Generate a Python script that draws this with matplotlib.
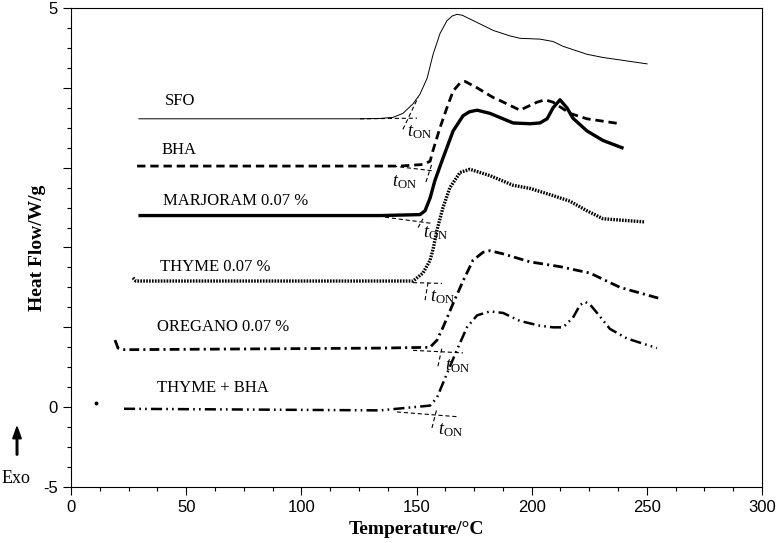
import numpy as np
import matplotlib
matplotlib.use('Agg')
import matplotlib.pyplot as plt
from matplotlib.ticker import MultipleLocator, FixedLocator

plt.rcParams['lines.scale_dashes'] = False
plt.rcParams['mathtext.fontset'] = 'custom'
plt.rcParams['mathtext.rm'] = 'Liberation Serif'
plt.rcParams['mathtext.it'] = 'Liberation Serif:italic'

# DSC curves (temperature in C, heat flow in plot units)
sfo_x = [29.5, 99.4, 125.5, 134.0, 139.8, 144.1, 148.5, 151.5, 154.6, 157.2, 160.2, 163.2,
         165.5, 167.6, 169.8, 171.9, 177.6, 183.2, 190.6, 194.9, 203.6, 209.3, 213.6, 224.0, 231.0, 250.1]
sfo_y = [18.06, 18.06, 18.06, 18.08, 18.15, 18.4, 19.0, 19.6, 20.6, 22.1, 23.4, 24.2,
         24.5, 24.6, 24.55, 24.4, 24.0, 23.6, 23.25, 23.1, 23.05, 22.9, 22.6, 22.1, 21.9, 21.5]

bha_x = [28.7, 99.4, 142.8, 152.8, 155.9, 157.2, 160.2, 163.2, 165.9, 168.9, 171.1,
         176.3, 183.2, 186.3, 194.9, 202.3, 205.8, 209.3, 216.6, 224.0, 238.4]
bha_y = [15.1, 15.1, 15.1, 15.2, 15.4, 16.1, 17.5, 18.75, 19.8, 20.3, 20.4,
         20.0, 19.4, 19.2, 18.6, 19.1, 19.25, 19.1, 18.4, 18.06, 17.75]

marj_x = [30.0, 134.2, 151.5, 153.7, 155.9, 158.0, 161.5, 165.9, 170.2, 173.0, 176.3, 181.9,
          191.9, 199.3, 203.6, 206.7, 209.3, 212.3, 215.3, 217.9, 224.0, 231.0, 239.2]
marj_y = [12.0, 12.0, 12.06, 12.3, 13.1, 14.2, 15.6, 17.3, 18.25, 18.5, 18.6, 18.4,
          17.8, 17.75, 17.8, 18.06, 18.75, 19.25, 18.75, 18.1, 17.3, 16.7, 16.25]

thyme_x = [26.9, 28.2, 30.0, 134.2, 148.5, 152.8, 155.9, 157.2, 158.9, 161.5, 164.5,
           168.9, 173.2, 181.9, 191.9, 199.3, 209.3, 216.6, 224.0, 231.0, 249.2]
thyme_y = [8.1, 7.9, 7.9, 7.9, 7.9, 8.4, 9.2, 9.9, 11.1, 12.5, 13.75,
           14.7, 14.9, 14.5, 13.9, 13.7, 13.25, 12.9, 12.3, 11.8, 11.6]

oreg_x = [19.1, 20.4, 23.4, 134.2, 155.9, 158.9, 161.5, 165.9, 170.2, 174.5, 178.9,
          181.9, 187.6, 199.3, 212.3, 225.3, 238.4, 255.7]
oreg_y = [4.2, 3.7, 3.6, 3.7, 3.75, 4.2, 5.0, 6.5, 7.9, 9.2, 9.7,
          9.8, 9.6, 9.1, 8.8, 8.4, 7.5, 6.8]

tb_x = [23.0, 134.2, 155.9, 158.9, 163.2, 167.6, 171.9, 176.3, 181.9, 187.6, 194.9,
        203.6, 209.3, 213.6, 217.9, 221.0, 223.2, 225.5, 228.4, 234.0, 241.4, 254.4]
tb_y = [-0.1, -0.2, 0.1, 0.6, 2.1, 3.6, 5.0, 5.75, 6.0, 5.9, 5.4,
        5.1, 5.0, 5.0, 5.6, 6.4, 6.6, 6.4, 5.9, 4.9, 4.3, 3.7]
tb_dot = (10.9, 0.25)

labels = ['SFO', 'BHA', 'MARJORAM 0.07 %', 'THYME 0.07 %', 'OREGANO 0.07 %', 'THYME + BHA']
label_x = [40.8, 39.5, 40.0, 38.6, 37.3, 37.3]
label_y = [19.2, 16.1, 12.9, 8.75, 5.0, 1.2]

# onset construction lines: baseline extension and tangent, plus t_ON label position
base_seg = [((125.5, 150.2), (18.06, 18.1)), ((139.8, 157.2), (15.1, 14.8)),
            ((136.3, 157.2), (11.9, 11.5)), ((148.5, 161.1), (7.8, 7.75)),
            ((148.5, 170.2), (3.56, 3.4)), ((141.5, 168.0), (-0.3, -0.6))]
tan_seg = [((144.1, 150.7), (17.4, 19.4)), ((154.1, 156.7), (14.1, 15.25)),
           ((150.7, 152.8), (11.25, 11.8)), ((153.7, 155.0), (6.7, 7.8)),
           ((159.3, 161.1), (2.56, 3.75)), ((156.7, 158.9), (-1.3, -0.06))]
ton_x = [145.9, 139.4, 152.8, 155.9, 162.4, 159.3]
ton_y = [17.25, 14.1, 10.9, 6.9, 2.56, -1.4]

fig = plt.figure(figsize=(7.77, 5.43), dpi=100)
ax = fig.add_axes([0.0914, 0.1031, 0.8893, 0.8822])

ax.plot(sfo_x, sfo_y, color='black', lw=0.7)
ax.plot(bha_x, bha_y, color='black', lw=2.0, dashes=(6, 3.5))
ax.plot(marj_x, marj_y, color='black', lw=2.4)
ax.plot(thyme_x, thyme_y, color='black', lw=2.4, dashes=(1.2, 0.9))
ax.plot(oreg_x, oreg_y, color='black', lw=2.0, dashes=(7, 3, 1.5, 3))
ax.plot(tb_x, tb_y, color='black', lw=1.8, dashes=(8, 3, 1.2, 3, 1.2, 3))
ax.plot([tb_dot[0]], [tb_dot[1]], 'o', color='black', ms=1.8)

for (bx, by), (tx, ty) in zip(base_seg, tan_seg):
    ax.plot(bx, by, color='black', lw=0.8, dashes=(3, 2))
    ax.plot(tx, ty, color='black', lw=0.8, dashes=(3, 2))

for x, y in zip(ton_x, ton_y):
    ax.text(x, y, r'$t_{\mathrm{ON}}$', fontsize=13, ha='left', va='center')

for lab, x, y in zip(labels, label_x, label_y):
    ax.text(x, y, lab, fontsize=12, family='Liberation Serif', ha='left', va='center')

ax.set_xlim(0, 300)
ax.set_ylim(-5, 25)
ax.xaxis.set_major_locator(MultipleLocator(50))
ax.xaxis.set_minor_locator(MultipleLocator(12.5))
ax.yaxis.set_major_locator(FixedLocator([-5, 0, 5, 10, 15, 20, 25]))
ax.yaxis.set_minor_locator(MultipleLocator(1.25))
ax.set_yticklabels(['-5', '0', '', '', '', '', '5'])
ax.tick_params(which='both', direction='out', width=0.8, labelsize=12)
ax.tick_params(which='major', length=6)
ax.tick_params(which='minor', length=3)
for lab in ax.get_xticklabels() + ax.get_yticklabels():
    lab.set_family('Liberation Sans')
for sp in ax.spines.values():
    sp.set_linewidth(0.8)

ax.set_xlabel('Temperature/\u00b0C', fontsize=14, fontweight='bold', family='Liberation Serif', labelpad=4)
ax.set_ylabel('Heat Flow/W/g', fontsize=14, fontweight='bold', family='Liberation Serif', labelpad=-2)

# Exo arrow in lower left corner
fig.patches.append(matplotlib.patches.FancyArrow(0.0219, 0.162, 0, 0.052, width=0.002,
                   head_width=0.011, head_length=0.022, color='black',
                   transform=fig.transFigure, length_includes_head=True))
fig.text(0.021, 0.118, 'Exo', fontsize=13, family='Liberation Serif', ha='center', va='center')

plt.savefig('out.png', dpi=100)
